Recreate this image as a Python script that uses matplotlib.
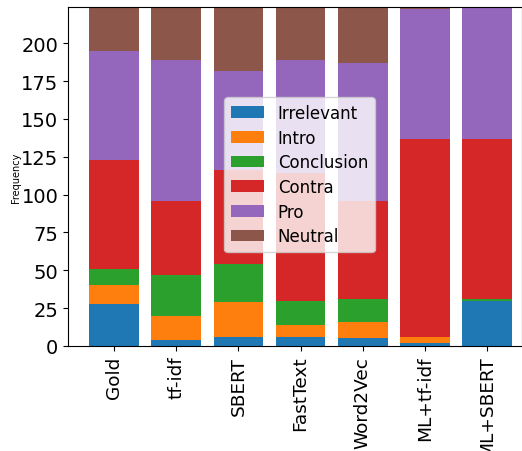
import numpy as np
import matplotlib
matplotlib.use("Agg")
import matplotlib.pyplot as plt
from matplotlib.ticker import MultipleLocator

methods = ["Gold", "tf-idf", "SBERT", "FastText", "Word2Vec", "ML+tf-idf", "ML+SBERT"]
irrelevant = [28, 4, 6, 6, 5, 2, 30]
intro = [12, 16, 23, 8, 11, 4, 0]
conclusion = [11, 27, 25, 16, 15, 0, 1]
contra = [72, 49, 62, 84, 65, 131, 106]
pro = [72, 93, 66, 75, 91, 86, 87]
neutral = [29, 35, 42, 35, 37, 1, 0]

series = [("Irrelevant", irrelevant), ("Intro", intro), ("Conclusion", conclusion),
          ("Contra", contra), ("Pro", pro), ("Neutral", neutral)]

fig = plt.figure(figsize=(5.22, 4.52), dpi=100)
ax = fig.add_axes([68 / 522, 1 - 347 / 452, (522 - 68) / 522, (347 - 8) / 452])

x = np.arange(len(methods))
bottom = np.zeros(len(methods))
for name, vals in series:
    ax.bar(x, vals, 0.8, bottom=bottom, label=name)
    bottom += np.array(vals)

ax.set_xticks(x)
ax.set_xticklabels(methods, rotation=90, fontsize=13.3)
ax.yaxis.set_major_locator(MultipleLocator(25))
ax.tick_params(axis="y", labelsize=14)
ax.set_ylabel("Frequency", fontsize=7, labelpad=0)
ax.set_xlim(-0.74, 6.56)
ax.set_ylim(0, 224)
ax.legend(loc="center", fontsize=12, labelspacing=0.4, bbox_to_anchor=(0.51, 0.505))

fig.savefig("out.png", dpi=100)
